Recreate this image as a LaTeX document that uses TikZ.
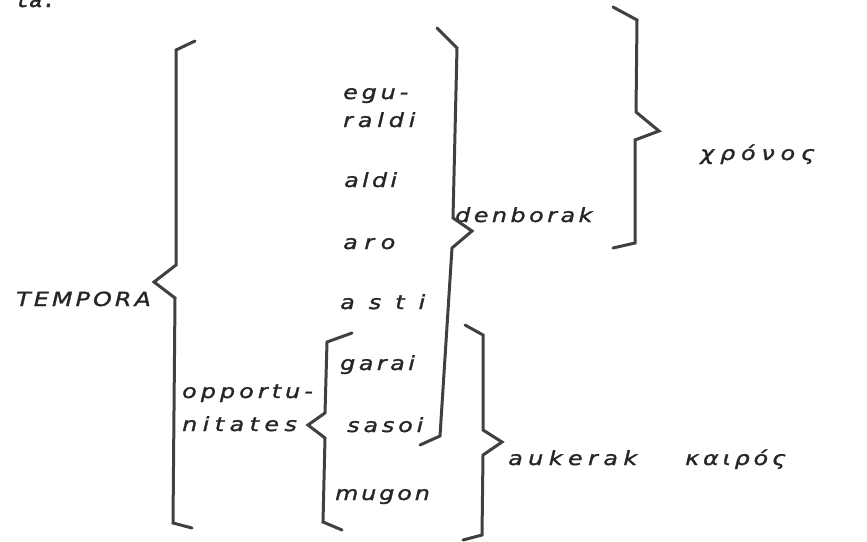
\documentclass[tikz,border=0pt]{standalone}
\usepackage{fontspec}
\setmainfont{DejaVu Sans}[FakeStretch=1.22,FakeBold=1.5]
\newfontfamily\tafont{Liberation Mono}[FakeBold=2]
\definecolor{ink}{HTML}{262626}
\definecolor{bink}{HTML}{404040}
\newdimen\lspdim
\def\spcloop#1{\ifx#1\relax\else#1\kern\lspdim\expandafter\spcloop\fi}
\newcommand\spw[2]{\lspdim=#1em\relax\spcloop#2\relax}
\tikzset{
  word/.style={anchor=base west, inner sep=0pt, text=ink, font=\fontsize{19.5}{21}\selectfont\itshape},
  brace/.style={draw=bink, line width=3pt, line join=miter, line cap=round}
}
\begin{document}
\begin{tikzpicture}[x=1pt,y=-1pt]
\useasboundingbox (0,0) rectangle (867,541);
% texts
\node[anchor=base west, inner sep=0pt, text=ink, font=\tafont\itshape\fontsize{22}{24}\selectfont] (ta) at (16,7) {ta.};
\node[word] (tempora) at (16,306) {\spw{0.16}{TEMPORA}};
\node[word] (egu) at (343,99) {\spw{0.20}{egu-}};
\node[word] (raldi) at (343,127) {\spw{0.25}{raldi}};
\node[word] (aldi) at (344,187) {\spw{0.17}{aldi}};
\node[word] (aro) at (343,249) {\spw{0.34}{aro}};
\node[word] (asti) at (340,309) {\spw{0.72}{asti}};
\node[word] (garai) at (340,370) {\spw{0.18}{garai}};
\node[word] (sasoi) at (347,432) {\spw{0.20}{sasoi}};
\node[word] (mugon) at (335,500) {\spw{0.15}{mugon}};
\node[word] (opp) at (182,398) {\spw{0.21}{opportu-}};
\node[word] (nit) at (182,431) {\spw{0.28}{nitates}};
\node[word] (denb) at (455,222) {\spw{0.18}{denborak}};
\node[word] (chronos) at (700,160) {\spw{0.30}{χρόνος}};
\node[word] (auk) at (508,465) {\spw{0.28}{aukerak}};
\node[word] (kairos) at (685,465) {\spw{0.20}{καιρός}};
% braces
\draw[brace] (195,41) -- (176,50) -- (176,265) -- (154,282) -- (175,298) -- (173,523) -- (192,528);
\draw[brace] (437,28) -- (457,48) -- (453,218) -- (472,231) -- (452,248) -- (440,436) -- (420,445);
\draw[brace] (613,7) -- (637,20) -- (636,112) -- (659,131) -- (635,140) -- (635,243) -- (613,248);
\draw[brace] (352,333) -- (327,342) -- (325,413) -- (308,425) -- (325,438) -- (323,522) -- (342,530);
\draw[brace] (465,325) -- (483,335) -- (483,430) -- (502,442) -- (483,455) -- (482,535) -- (463,540);
\end{tikzpicture}
\end{document}
